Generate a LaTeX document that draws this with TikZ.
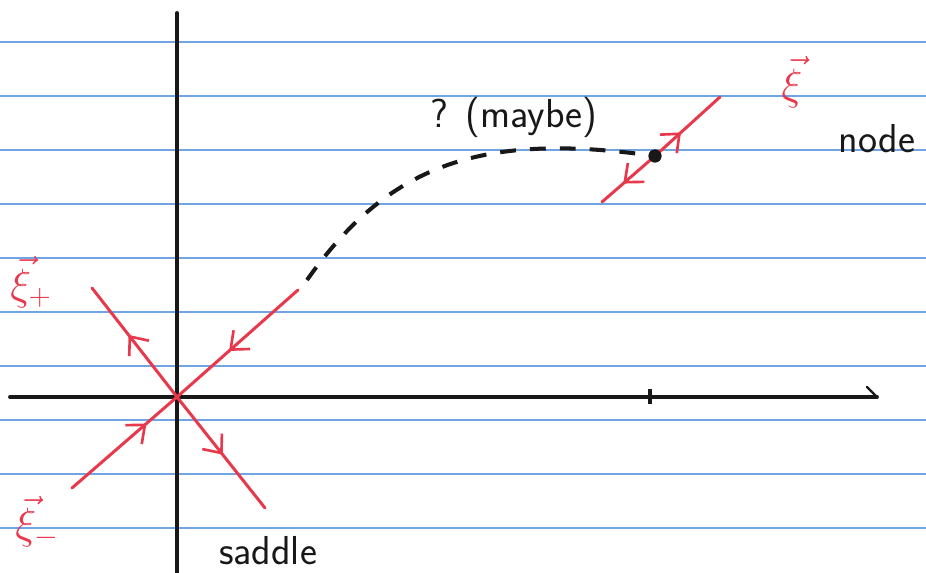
\documentclass[tikz,border=0pt]{standalone}
\usepackage{tikz}
\usepackage{xcolor}
\usetikzlibrary{arrows.meta,decorations.markings}
\definecolor{inkRed}{RGB}{232,56,76}
\definecolor{inkBlack}{RGB}{24,24,24}
\definecolor{ruleBlue}{RGB}{112,165,225}
\tikzset{
  ruleline/.style={ruleBlue,line width=0.9pt},
  axisline/.style={inkBlack,line width=2.2pt,line cap=round},
  redline/.style={inkRed,line width=1.7pt,line cap=round},
  midarrow/.style={postaction={decorate},decoration={markings,mark=at position #1 with {\arrow{Straight Barb[length=3mm,width=5mm,line width=1.5pt]}}}},
  inktext/.style={text=inkBlack,font=\sffamily\fontsize{23}{26}\selectfont},
  redlabel/.style={text=inkRed,font=\fontsize{24}{28}\selectfont}
}

\begin{document}
\begin{tikzpicture}
\useasboundingbox (-3.54,-3.52) rectangle (14.98,7.94);
\fill[white] (-3.54,-3.52) rectangle (14.98,7.94);
\foreach \k in {0,...,9}
  \draw[ruleline] (-3.54,7.10-1.08*\k) -- (14.98,7.10-1.08*\k);
\coordinate (O) at (0,0);
\coordinate (xleft) at (-3.34,0);
\coordinate (xright) at (14.0,0);
\coordinate (ytop) at (0,7.68);
\coordinate (ybot) at (0,-3.6);
\draw[axisline] (xleft) -- (xright);
\draw[axisline] (ybot) -- (ytop);
\draw[inkBlack,line width=2.2pt] (9.46,0.15) -- (9.46,-0.15);
\draw[inkBlack,line width=1.4pt,line cap=round] (13.8,0.2) -- (xright);
\coordinate (aup) at (-1.70,2.18);
\coordinate (adown) at (1.76,-2.22);
\coordinate (bup) at (2.42,2.14);
\coordinate (bdown) at (-2.10,-1.82);
\draw[redline,midarrow=0.57] (O) -- (aup);
\draw[redline,midarrow=0.52] (O) -- (adown);
\draw[redline,midarrow=0.57] (bup) -- (O);
\draw[redline,midarrow=0.71] (bdown) -- (O);
\node[circle,fill=inkBlack,inner sep=0pt,minimum size=0.26cm] (nodept) at (9.56,4.82) {};
\coordinate (cup) at (10.86,6.00);
\coordinate (cdown) at (8.50,3.90);
\draw[redline,midarrow=0.40] (nodept.center) -- (cup);
\draw[redline,midarrow=0.60] (nodept.center) -- (cdown);
\fill[inkBlack] (nodept) circle (0.13);
\coordinate (dashstart) at (2.6,2.34);
\draw[inkBlack,line width=2.3pt,dash pattern=on 9pt off 8pt] (dashstart) .. controls (4.2,4.6) and (6.0,5.3) .. (nodept);
\node[redlabel] (xiplus) at (-2.92,2.3) {$\vec{\xi}_+$};
\node[redlabel] (ximinus) at (-2.8,-2.5) {$\vec{\xi}_-$};
\node[redlabel] (xinode) at (12.3,6.3) {$\vec{\xi}$};
\node[inktext] (nodelabel) at (14.0,5.16) {node};
\node[inktext] (saddlelabel) at (1.82,-3.08) {saddle};
\node[inktext] (maybelabel) at (6.74,5.6) {? (maybe)};
\end{tikzpicture}
\end{document}
